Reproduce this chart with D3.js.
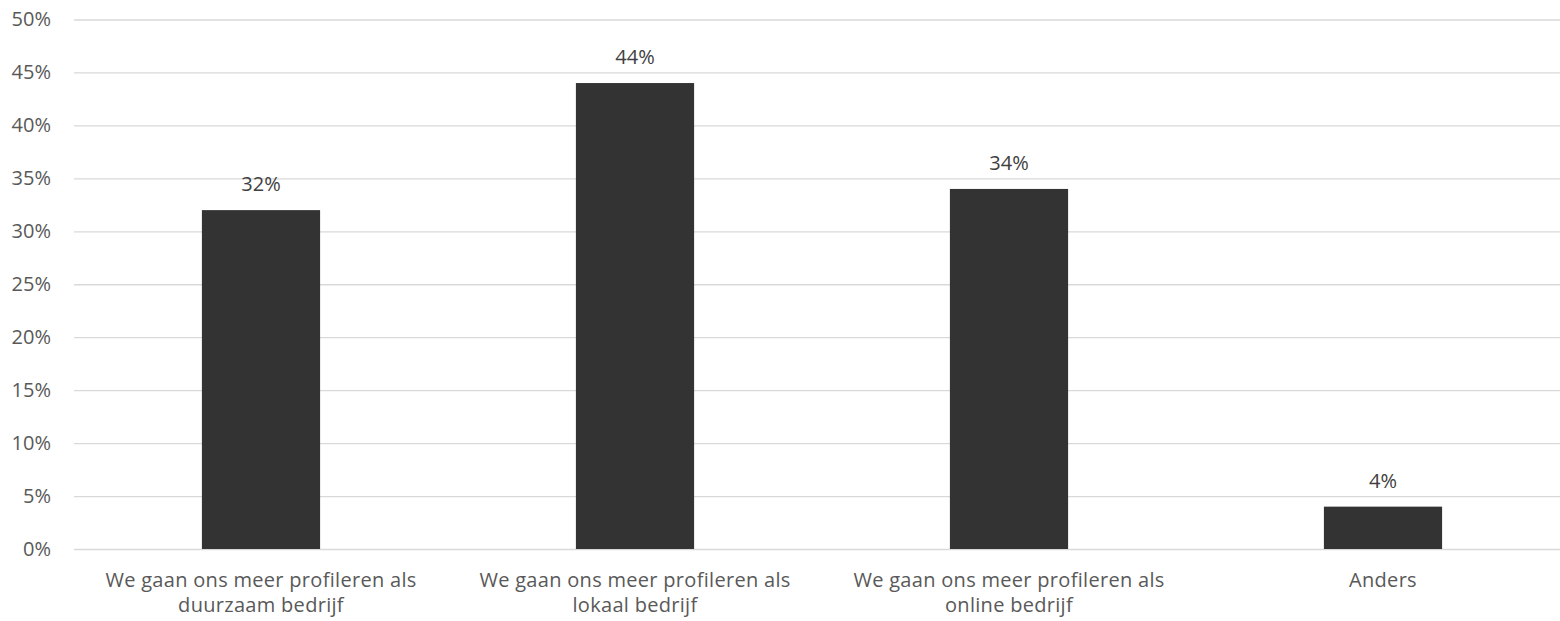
<!DOCTYPE html>
<html><head><meta charset="utf-8">
<script src="https://cdn.jsdelivr.net/npm/d3@7"></script>
<style>body{margin:0;background:#fff}svg{display:block}</style>
</head><body><svg id="c" width="1560" height="621"></svg>
<script>
const categories = [
  ["We gaan ons meer profileren als", "duurzaam bedrijf"],
  ["We gaan ons meer profileren als", "lokaal bedrijf"],
  ["We gaan ons meer profileren als", "online bedrijf"],
  ["Anders"]
];
const values = [0.32, 0.44, 0.34, 0.04];
const yTicks = [0, 0.05, 0.10, 0.15, 0.20, 0.25, 0.30, 0.35, 0.40, 0.45, 0.50];

const svg = d3.select("#c");
const m = {left: 74, right: 1570, top: 19.5, bottom: 549};
const font = "'Open Sans', sans-serif";
const x = d3.scaleBand().domain(d3.range(values.length)).range([m.left, m.right]).paddingInner(0.684).paddingOuter(0.342);
const y = d3.scaleLinear().domain([0, 0.5]).range([m.bottom, m.top]);
const fmt = d3.format(".0%");

const yAxis = svg.append("g").attr("transform", `translate(${m.left},0)`)
  .call(d3.axisLeft(y).tickValues(yTicks).tickFormat(fmt).tickSize(-(1560 - m.left)).tickPadding(23));
yAxis.select(".domain").remove();
yAxis.selectAll(".tick line").attr("stroke", "#d9d9d9").attr("stroke-width", 1.3);
yAxis.selectAll(".tick text").attr("fill", "#595959").style("font-family", font).style("font-size", "20px");

svg.append("g").selectAll("rect").data(values).join("rect")
  .attr("x", (d, i) => x(i)).attr("width", x.bandwidth())
  .attr("y", d => y(d)).attr("height", d => y(0) - y(d))
  .attr("fill", "#333333");

svg.append("g").selectAll("text").data(values).join("text")
  .attr("x", (d, i) => x(i) + x.bandwidth() / 2).attr("y", d => y(d) - 19)
  .attr("text-anchor", "middle").attr("fill", "#404040")
  .style("font-family", font).style("font-size", "20px")
  .text(d => fmt(d));

const xl = svg.append("g").selectAll("text").data(categories).join("text")
  .attr("x", (d, i) => x(i) + x.bandwidth() / 2).attr("y", 587)
  .attr("text-anchor", "middle").attr("fill", "#595959")
  .style("font-family", font).style("font-size", "20px").style("letter-spacing", "0.3px");
xl.selectAll("tspan").data(d => d).join("tspan")
  .attr("x", function() { return this.parentNode.getAttribute("x"); })
  .attr("dy", (d, i) => i === 0 ? 0 : 25)
  .text(d => d);
</script></body></html>
